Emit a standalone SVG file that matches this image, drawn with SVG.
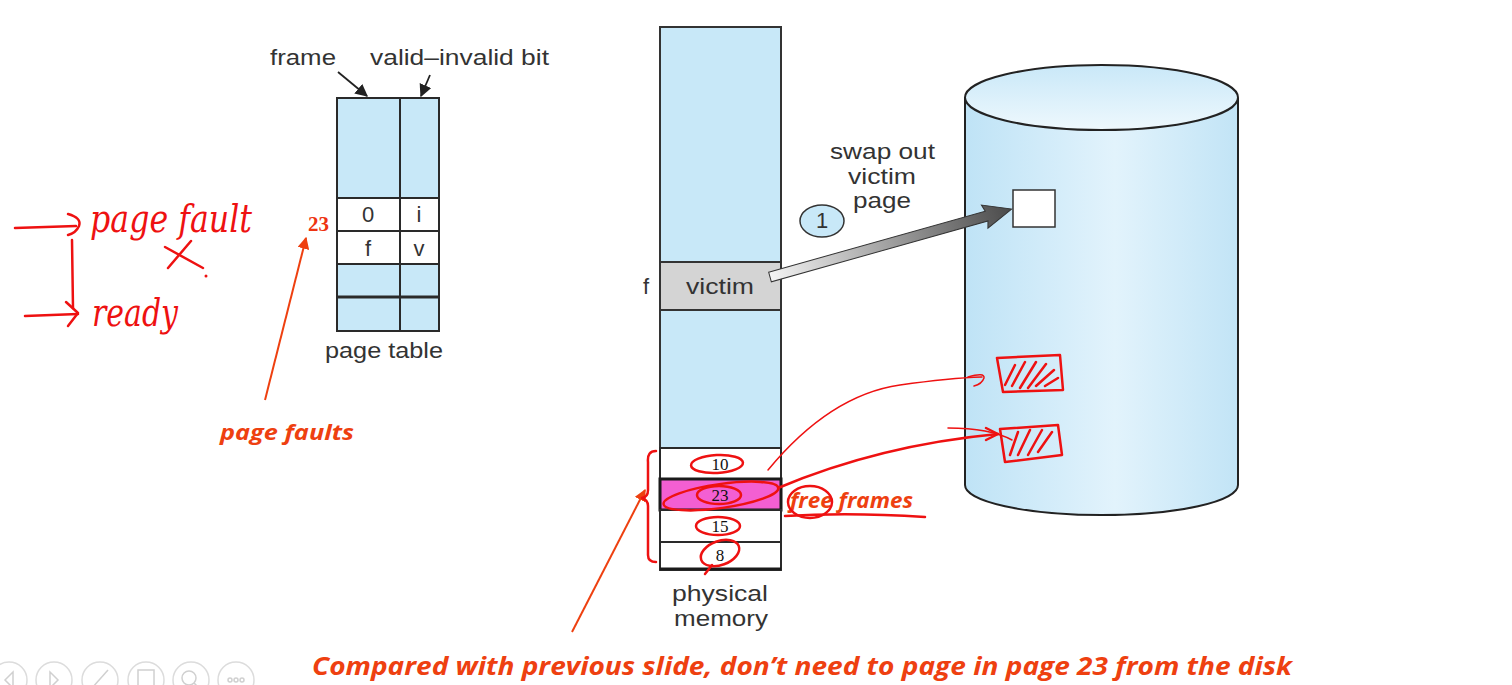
<svg xmlns="http://www.w3.org/2000/svg" width="1512" height="685" viewBox="0 0 1512 685">
<defs>
<style>
.lbl{font-family:"Liberation Sans",Arial,sans-serif;font-size:22px;fill:#333}
.num{font-family:"Liberation Serif","Times New Roman",serif;font-size:17px;fill:#111;text-anchor:middle}
.cell{fill:#c8e8f8;stroke:#2a2a2a;stroke-width:2}
.wcell{fill:#ffffff;stroke:#2a2a2a;stroke-width:2}
.ink{fill:none;stroke:#ee1111;stroke-width:2.5;stroke-linecap:round;stroke-linejoin:round}
.inkt{fill:none;stroke:#ee1111;stroke-width:1.5;stroke-linecap:round}
.hand{font-family:"DejaVu Serif",serif;font-style:italic;fill:#ee1111}
.note{font-family:"Open Sans","Noto Sans",sans-serif;font-style:italic;font-weight:bold;fill:#ee4010}
.nav{fill:#fff;stroke:#dcdcdc;stroke-width:1.5}
.navg{fill:none;stroke:#d0d0d0;stroke-width:1.5}
</style>
<linearGradient id="disk" x1="0" y1="0" x2="1" y2="0">
<stop offset="0" stop-color="#bfe3f6"/><stop offset="0.55" stop-color="#e2f3fc"/><stop offset="1" stop-color="#c2e4f6"/>
</linearGradient>
<linearGradient id="diskTop" x1="0" y1="0" x2="0" y2="1">
<stop offset="0" stop-color="#c9e8f8"/><stop offset="1" stop-color="#eef8fd"/>
</linearGradient>
<linearGradient id="swap" x1="0" y1="0" x2="1" y2="0">
<stop offset="0" stop-color="#f4f4f4"/><stop offset="1" stop-color="#4a4a4a"/>
</linearGradient>
<marker id="ah" viewBox="0 0 10 10" refX="9" refY="5" markerWidth="7" markerHeight="7" orient="auto">
<path d="M0,0 L10,5 L0,10 z" fill="#222"/>
</marker>
<marker id="oh" viewBox="0 0 10 10" refX="9" refY="5" markerWidth="6" markerHeight="6" orient="auto">
<path d="M0,0 L10,5 L0,10 z" fill="#ee4010"/>
</marker>
</defs>
<rect width="1512" height="685" fill="#ffffff"/>

<!-- page table -->
<g id="page-table">
<rect class="cell" x="337" y="98" width="63" height="100"/>
<rect class="cell" x="400" y="98" width="39" height="100"/>
<rect class="wcell" x="337" y="198" width="63" height="33"/>
<rect class="wcell" x="400" y="198" width="39" height="33"/>
<rect class="wcell" x="337" y="231" width="63" height="33"/>
<rect class="wcell" x="400" y="231" width="39" height="33"/>
<rect class="cell" x="337" y="264" width="63" height="33"/>
<rect class="cell" x="400" y="264" width="39" height="33"/>
<rect class="cell" x="337" y="297" width="63" height="34"/>
<rect class="cell" x="400" y="297" width="39" height="34"/>
<line x1="337" y1="297" x2="439" y2="297" stroke="#2a2a2a" stroke-width="3"/>
<text class="lbl" x="368" y="222" text-anchor="middle">0</text>
<text class="lbl" x="419" y="222" text-anchor="middle">i</text>
<text class="lbl" x="368" y="256" text-anchor="middle">f</text>
<text class="lbl" x="419" y="256" text-anchor="middle">v</text>
<text class="lbl" x="325" y="358" textLength="118" lengthAdjust="spacingAndGlyphs">page table</text>
<text class="lbl" x="270" y="65" textLength="66" lengthAdjust="spacingAndGlyphs">frame</text>
<text class="lbl" x="370" y="65" textLength="179" lengthAdjust="spacingAndGlyphs">valid–invalid bit</text>
</g>

<!-- physical memory -->
<g id="physical-memory">
<rect x="660" y="27" width="121" height="543" fill="#c8e8f8" stroke="#333" stroke-width="2"/>
<rect x="660" y="262" width="121" height="48" fill="#d4d4d4" stroke="#333" stroke-width="2"/>
<text class="lbl" x="686" y="294" textLength="68" lengthAdjust="spacingAndGlyphs">victim</text>
<text class="lbl" x="646" y="294" text-anchor="middle">f</text>
<rect class="wcell" x="660" y="448" width="121" height="31"/>
<rect x="660" y="479" width="121" height="31" fill="#f35fd2" stroke="#1a1a1a" stroke-width="3"/>
<rect class="wcell" x="660" y="510" width="121" height="32"/>
<rect class="wcell" x="660" y="542" width="121" height="27"/>
<line x1="660" y1="569" x2="781" y2="569" stroke="#1a1a1a" stroke-width="3"/>
<text class="num" x="720" y="470">10</text>
<text class="num" x="720" y="501">23</text>
<text class="num" x="720" y="532">15</text>
<text class="num" x="720" y="561">8</text>
<text class="lbl" x="672" y="601" textLength="96" lengthAdjust="spacingAndGlyphs">physical</text>
<text class="lbl" x="674" y="626" textLength="94" lengthAdjust="spacingAndGlyphs">memory</text>
</g>

<!-- disk -->
<g id="disk-store">
<path d="M965,98 L965,485 A136.5,30 0 0 0 1238,485 L1238,98 Z" fill="url(#disk)" stroke="none"/>
<path d="M965,98 L965,485 A136.5,30 0 0 0 1238,485 L1238,98" fill="none" stroke="#222" stroke-width="2"/>
<ellipse cx="1101.5" cy="97.5" rx="136.5" ry="32.5" fill="url(#diskTop)" stroke="#222" stroke-width="2"/>
<rect x="1013" y="190" width="42" height="37" fill="#ffffff" stroke="#333" stroke-width="1.5"/>
</g>

<!-- swap step label -->
<g id="swap-label">
<ellipse cx="822" cy="221" rx="22" ry="16" fill="#c8e8f8" stroke="#333" stroke-width="1.5"/>
<text class="lbl" x="822" y="228" text-anchor="middle" font-size="19">1</text>
<text class="lbl" x="830" y="159" textLength="105" lengthAdjust="spacingAndGlyphs">swap out</text>
<text class="lbl" x="848" y="184" textLength="68" lengthAdjust="spacingAndGlyphs">victim</text>
<text class="lbl" x="853" y="208" textLength="58" lengthAdjust="spacingAndGlyphs">page</text>
</g>

<!-- connectors -->
<g id="connectors">
<line x1="338" y1="72" x2="367" y2="96" stroke="#222" stroke-width="1.8" marker-end="url(#ah)"/>
<line x1="430" y1="75" x2="421" y2="96" stroke="#222" stroke-width="1.8" marker-end="url(#ah)"/>
<g transform="translate(770,277) rotate(-15.7)">
<path d="M0,-5 L225,-5 L223,-12 L251,0 L223,12 L225,5 L0,5 Z" fill="url(#swap)" stroke="#333" stroke-width="1"/>
</g>
<line x1="265" y1="400" x2="306" y2="238" stroke="#ee4010" stroke-width="2" marker-end="url(#oh)"/>
<line x1="572" y1="632" x2="645" y2="490" stroke="#ee4010" stroke-width="2" marker-end="url(#oh)"/>
</g>

<!-- typed annotations -->
<g id="annotations">
<text x="308" y="231" font-family="Liberation Serif,serif" font-weight="bold" font-size="21" fill="#ee3311">23</text>
<text class="note" x="220" y="440" font-size="21" textLength="134" lengthAdjust="spacingAndGlyphs">page faults</text>
<text class="note" x="790" y="508" font-size="21" textLength="123" lengthAdjust="spacingAndGlyphs">free frames</text>
<text class="note" x="312" y="675" font-size="25" textLength="980" lengthAdjust="spacingAndGlyphs">Compared with previous slide, don’t need to page in page 23 from the disk</text>
</g>

<!-- handwriting -->
<g id="handwriting">
<path class="ink" d="M15,228 L76,226"/>
<path class="ink" d="M68,214 Q82,218 79,226 Q76,233 68,235"/>
<path class="ink" d="M72,240 L73,308"/>
<path class="ink" d="M25,316 L78,314"/>
<path class="ink" d="M66,302 L78,313 L68,326"/>
<text class="hand" x="90" y="232" font-size="40" textLength="162" lengthAdjust="spacingAndGlyphs">page fault</text>
<text class="hand" x="92" y="326" font-size="40" textLength="86" lengthAdjust="spacingAndGlyphs">ready</text>
<path class="ink" d="M165,247 L203,268 M191,241 L168,268"/>
<circle cx="206" cy="276" r="1.5" fill="#ee1111"/>
<ellipse class="ink" cx="717" cy="464" rx="26" ry="9" transform="rotate(-3 717 464)"/>
<ellipse class="ink" cx="721" cy="496" rx="58" ry="12" transform="rotate(-8 721 496)"/>
<ellipse class="ink" cx="719" cy="495" rx="22" ry="9"/>
<ellipse class="ink" cx="718" cy="526" rx="22" ry="9"/>
<ellipse class="ink" cx="720" cy="553" rx="20" ry="12" transform="rotate(-20 720 553)"/>
<path class="ink" d="M712,565 L705,574"/>
<path class="ink" d="M656,451 Q647,451 648,462 L648,490 Q648,497 642,498 Q648,500 648,506 L648,555 Q648,562 656,562"/>
<path class="inkt" d="M768,470 Q830,395 900,385 Q950,378 982,377"/>
<path class="inkt" d="M968,377 Q985,372 984,378 Q982,384 974,386"/>
<path class="ink" d="M778,488 Q880,445 998,434"/>
<path class="ink" d="M986,428 L998,434 L986,440"/>
<path class="inkt" d="M948,428 Q990,428 1012,440"/>
<ellipse class="ink" cx="810" cy="502" rx="22" ry="16"/>
<path class="ink" d="M785,516 Q850,512 925,517"/>
<path class="ink" d="M997,358 L1060,355 L1063,390 L1003,392 Z"/>
<path class="ink" d="M1005,385 L1015,365 M1012,386 L1025,362 M1020,388 L1036,362 M1028,388 L1046,364 M1036,386 L1054,370 M1045,386 L1058,378"/>
<path class="ink" d="M1000,429 L1058,425 L1062,455 L1005,462 Z"/>
<path class="ink" d="M1010,455 L1018,432 M1018,455 L1030,430 M1028,455 L1042,430 M1038,452 L1052,432"/>
</g>

<!-- viewer controls -->
<g id="nav-controls">
<circle class="nav" cx="9" cy="680" r="18"/>
<path class="navg" d="M13,672 L5,680 L13,688 Z"/>
<circle class="nav" cx="54" cy="680" r="18"/>
<path class="navg" d="M50,672 L58,680 L50,688 Z"/>
<circle class="nav" cx="100" cy="680" r="18"/>
<path class="navg" d="M92,688 L108,670"/>
<circle class="nav" cx="146" cy="680" r="18"/>
<rect class="navg" x="138" y="670" width="16" height="16"/>
<circle class="nav" cx="191" cy="680" r="18"/>
<circle class="navg" cx="189" cy="678" r="7"/>
<path class="navg" d="M194,683 L200,689"/>
<circle class="nav" cx="236" cy="680" r="18"/>
<circle class="navg" cx="230" cy="680" r="2"/><circle class="navg" cx="236" cy="680" r="2"/><circle class="navg" cx="242" cy="680" r="2"/>
</g>
</svg>
